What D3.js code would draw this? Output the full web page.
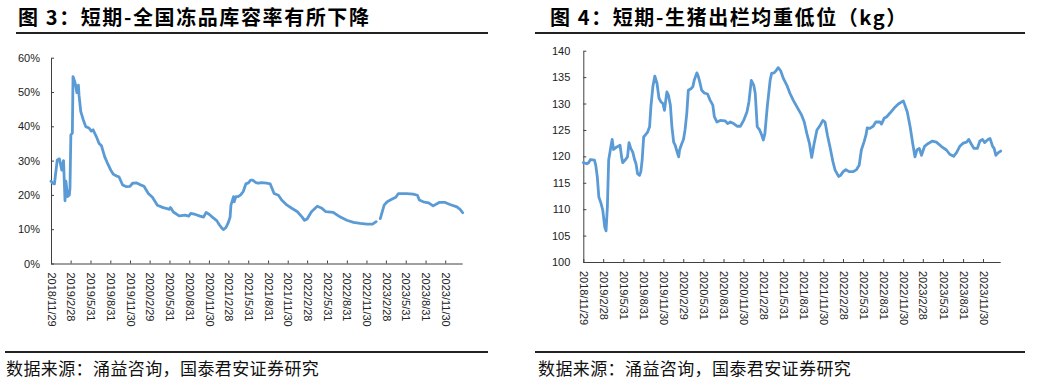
<!DOCTYPE html>
<html><head><meta charset="utf-8">
<script src="https://cdn.jsdelivr.net/npm/d3@7"></script>
<style>body{margin:0;background:#fff}svg{display:block}</style>
</head><body>
<svg id="c" width="1059" height="382"></svg>
<script>
// ---------- data ----------
const title3 = "图 3：短期-全国冻品库容率有所下降";
const title4 = "图 4：短期-生猪出栏均重低位（kg）";
const sourceText = "数据来源：涌益咨询，国泰君安证券研究";

const tickLabels = ["2018/11/29","2019/2/28","2019/5/31","2019/8/31","2019/11/30","2020/2/29","2020/5/31","2020/8/31","2020/11/30","2021/2/28","2021/5/31","2021/8/31","2021/11/30","2022/2/28","2022/5/31","2022/8/31","2022/11/30","2023/2/28","2023/5/31","2023/8/31","2023/11/30"];
const yTicks3 = [0,0.1,0.2,0.3,0.4,0.5,0.6];
const yTicks4 = [100,105,110,115,120,125,130,135,140];

// chart 3: national frozen-goods storage capacity rate (%)
const dates3 = ["2018-11-29","2018-12-07","2018-12-15","2018-12-28","2019-01-07","2019-01-18","2019-01-26","2019-02-02","2019-02-06","2019-02-14","2019-02-22","2019-02-25","2019-03-01","2019-03-08","2019-03-11","2019-03-19","2019-03-23","2019-03-29","2019-04-05","2019-04-08","2019-04-16","2019-04-27","2019-05-09","2019-05-24","2019-06-04","2019-06-12","2019-06-27","2019-07-10","2019-07-21","2019-08-05","2019-08-16","2019-09-02","2019-09-14","2019-09-29","2019-10-10","2019-10-27","2019-11-14","2019-11-30","2019-12-12","2019-12-31","2020-01-15","2020-02-03","2020-02-23","2020-03-13","2020-04-05","2020-05-02","2020-05-20","2020-05-31","2020-06-05","2020-06-18","2020-07-15","2020-08-12","2020-08-28","2020-09-07","2020-09-28","2020-10-20","2020-11-05","2020-11-17","2020-12-02","2020-12-20","2021-01-05","2021-01-17","2021-01-29","2021-02-05","2021-02-17","2021-02-28","2021-03-08","2021-03-12","2021-03-24","2021-03-27","2021-04-04","2021-04-14","2021-04-26","2021-05-08","2021-05-20","2021-06-01","2021-06-11","2021-06-20","2021-07-06","2021-07-17","2021-08-01","2021-08-24","2021-09-10","2021-09-28","2021-10-18","2021-11-02","2021-11-27","2021-12-19","2022-01-14","2022-02-04","2022-02-16","2022-02-28","2022-03-20","2022-04-16","2022-05-05","2022-05-26","2022-06-29","2022-07-30","2022-08-31","2022-10-01","2022-11-01","2022-12-02","2022-12-28","2023-01-14","2023-01-22","2023-02-02","2023-02-20","2023-03-06","2023-03-27","2023-04-15","2023-04-27","2023-06-05","2023-07-05","2023-07-24","2023-08-02","2023-08-20","2023-09-14","2023-10-05","2023-11-02","2023-11-30","2023-12-22","2024-01-23","2024-02-07","2024-02-19"];
const rate3 = [24.0,23.4,23.2,30.2,30.5,27.2,30.0,18.3,24.0,19.5,20.0,22.0,37.5,38.0,54.5,53.0,52.0,49.8,52.0,49.0,44.3,42.0,39.9,39.5,38.6,39.0,37.0,35.0,34.3,31.1,29.5,27.2,26.0,25.5,25.3,22.9,22.4,22.5,23.4,23.5,23.0,22.5,20.4,19.3,17.0,16.3,16.0,15.8,16.3,15.0,13.9,14.1,13.8,14.6,14.3,13.8,13.5,14.9,14.3,13.3,12.5,11.3,10.3,9.9,10.5,12.0,13.5,17.0,19.5,18.0,19.5,19.5,20.0,21.0,23.2,23.5,24.3,24.3,23.6,23.4,23.6,23.4,23.2,20.4,19.9,18.5,17.0,16.1,15.1,13.6,12.6,13.0,15.1,16.7,16.2,15.1,14.9,13.6,12.6,12.0,11.7,11.5,11.5,12.2,null,13.1,17.0,18.0,18.7,19.3,20.4,20.4,20.2,19.9,18.5,18.0,17.7,16.8,17.8,17.8,17.2,16.5,15.8,14.8];

// chart 4: average slaughter weight of hogs (kg)
const dates4 = ["2018-11-29","2018-12-15","2018-12-23","2019-01-01","2019-01-19","2019-01-25","2019-02-01","2019-02-08","2019-02-18","2019-02-26","2019-03-07","2019-03-13","2019-03-19","2019-03-25","2019-04-04","2019-04-10","2019-04-16","2019-04-28","2019-05-08","2019-05-16","2019-05-23","2019-05-28","2019-06-08","2019-06-19","2019-06-26","2019-07-04","2019-07-13","2019-07-22","2019-07-28","2019-08-04","2019-08-13","2019-08-19","2019-08-25","2019-09-01","2019-09-08","2019-09-19","2019-09-28","2019-10-04","2019-10-13","2019-10-22","2019-11-01","2019-11-10","2019-11-19","2019-11-28","2019-12-05","2019-12-16","2019-12-23","2020-01-01","2020-01-08","2020-01-16","2020-01-23","2020-02-01","2020-02-08","2020-02-12","2020-02-22","2020-03-01","2020-03-08","2020-03-16","2020-03-23","2020-04-04","2020-04-13","2020-04-19","2020-05-01","2020-05-08","2020-05-16","2020-05-23","2020-06-04","2020-06-19","2020-07-01","2020-07-13","2020-07-20","2020-08-01","2020-08-16","2020-09-08","2020-09-19","2020-10-01","2020-10-16","2020-11-01","2020-11-16","2020-12-01","2020-12-16","2020-12-25","2021-01-05","2021-01-16","2021-01-23","2021-02-01","2021-02-12","2021-02-22","2021-03-01","2021-03-08","2021-03-19","2021-04-01","2021-04-08","2021-04-19","2021-04-28","2021-05-08","2021-05-19","2021-06-01","2021-06-16","2021-07-01","2021-07-16","2021-08-01","2021-08-23","2021-09-04","2021-09-16","2021-09-28","2021-10-08","2021-10-19","2021-11-01","2021-11-16","2021-11-28","2021-12-08","2021-12-19","2022-01-01","2022-01-13","2022-01-23","2022-02-08","2022-02-17","2022-03-01","2022-03-13","2022-03-28","2022-04-16","2022-05-01","2022-05-13","2022-05-23","2022-06-04","2022-06-13","2022-06-19","2022-07-01","2022-07-16","2022-07-28","2022-08-16","2022-08-23","2022-09-04","2022-09-16","2022-10-01","2022-10-19","2022-11-08","2022-12-01","2022-12-08","2022-12-19","2023-01-01","2023-01-13","2023-01-23","2023-02-01","2023-02-12","2023-02-22","2023-03-08","2023-03-23","2023-04-13","2023-05-01","2023-05-23","2023-06-16","2023-07-01","2023-07-19","2023-08-01","2023-08-16","2023-09-01","2023-09-16","2023-09-26","2023-10-08","2023-10-20","2023-11-04","2023-11-16","2023-11-28","2023-12-08","2023-12-23","2024-01-01","2024-01-13","2024-01-20","2024-01-28","2024-02-08","2024-02-19"];
const weight4 = [118.8,118.6,118.8,119.4,119.3,118.3,116.1,112.3,111.1,109.8,106.6,105.9,110.4,119.3,121.8,123.2,121.3,121.7,121.9,122.1,119.9,118.8,119.3,119.9,122.6,121.5,120.8,119.3,118.6,116.7,116.4,117.1,119.3,123.7,124.0,124.6,125.6,129.4,133.2,135.2,133.8,131.0,130.3,130.0,128.7,132.2,131.6,129.7,125.6,122.7,122.1,120.8,119.9,121.2,122.4,123.2,125.0,128.1,132.5,132.8,133.2,134.4,135.8,135.1,133.8,132.5,132.0,131.8,130.6,129.7,127.5,126.5,126.8,126.7,126.2,126.5,126.2,125.7,125.7,126.8,128.4,130.3,134.4,133.5,131.9,125.6,125.0,124.0,123.1,124.3,129.4,134.4,135.7,135.8,136.2,136.8,136.2,134.7,133.5,131.9,130.6,129.4,127.8,126.5,124.3,122.4,119.8,122.4,125.0,125.9,126.8,126.5,124.0,121.5,119.0,117.4,116.2,116.4,117.1,117.5,117.1,117.1,117.5,118.3,121.2,122.7,124.0,125.4,125.3,125.7,126.5,126.5,126.1,127.2,127.5,128.2,129.1,129.9,130.5,129.7,128.4,125.6,122.4,119.9,121.2,121.5,120.2,121.9,122.4,122.9,122.7,121.9,121.2,120.4,120.0,120.7,121.9,122.5,122.7,123.2,122.3,121.5,121.5,122.9,123.2,122.6,123.2,123.4,121.9,121.5,120.2,120.7,121.0];

// ---------- drawing ----------
const svg = d3.select("#c");
const parse = d3.timeParse("%Y-%m-%d");
const parseTick = d3.timeParse("%Y/%m/%d");
const tickDates = tickLabels.map(parseTick);
const fmtTick = d3.timeFormat("%Y/%-m/%-d");
const lineColor = "#5B9BD5";
const axisColor = "#404040";
const tickFont = "'Liberation Sans', Arial, sans-serif";
const cjk = "'Noto Sans CJK SC', sans-serif";

function header(x0, lineX0, lineX1, title, srcX, srcLineX0, srcLineX1) {
  svg.append("text").attr("x", x0).attr("y", 24.5)
    .attr("font-family", cjk).attr("font-weight", 700).attr("font-size", 20)
    .attr("letter-spacing", 1.6)
    .attr("fill", "#000").text(title);
  svg.append("line").attr("x1", lineX0).attr("x2", lineX1).attr("y1", 33).attr("y2", 33)
    .attr("stroke", "#222").attr("stroke-width", 2);
  svg.append("line").attr("x1", srcLineX0).attr("x2", srcLineX1).attr("y1", 352).attr("y2", 352)
    .attr("stroke", "#222").attr("stroke-width", 2);
  svg.append("text").attr("x", srcX).attr("y", 374.5)
    .attr("font-family", cjk).attr("font-weight", 400).attr("font-size", 17)
    .attr("letter-spacing", 0.4)
    .attr("fill", "#111").text(sourceText);
}

function chart(cfg) {
  const x = d3.scaleTime().domain([parse("2018-11-29"), parse("2024-02-19")]).range([cfg.x0, cfg.x1]);
  const y = d3.scaleLinear().domain(cfg.yDomain).range([cfg.yB, cfg.yT]);
  const g = svg.append("g");

  const xa = g.append("g").attr("transform", `translate(0,${cfg.yB})`)
    .call(d3.axisBottom(x).tickValues(tickDates).tickFormat(fmtTick).tickSizeInner(-3).tickSizeOuter(0));
  xa.select(".domain").attr("stroke", axisColor).attr("d", `M${cfg.x0},0.5H${cfg.x1}`);
  xa.selectAll(".tick line").attr("stroke", axisColor);
  xa.selectAll(".tick text")
    .attr("transform", "rotate(90)")
    .attr("x", 9).attr("y", 0).attr("dy", "0.35em")
    .attr("text-anchor", "start")
    .attr("font-family", tickFont).attr("font-size", 11).attr("fill", "#222");

  const ya = g.append("g").attr("transform", `translate(${cfg.x0},0)`)
    .call(d3.axisLeft(y).tickValues(cfg.yTicks).tickFormat(cfg.yFmt).tickSizeInner(-3).tickSizeOuter(0).tickPadding(cfg.pad));
  ya.select(".domain").attr("stroke", axisColor);
  ya.selectAll(".tick line").attr("stroke", axisColor);
  ya.selectAll(".tick text").attr("font-family", tickFont).attr("font-size", 11).attr("fill", "#222");

  const data = cfg.dates.map((d, i) => ({ d: parse(d), v: cfg.values[i] }));
  const line = d3.line().defined(p => p.v !== null)
    .x(p => x(p.d)).y(p => y(cfg.scaleV(p.v)));
  g.append("path").datum(data).attr("d", line)
    .attr("fill", "none").attr("stroke", lineColor).attr("stroke-width", 2.8)
    .attr("stroke-linejoin", "round").attr("stroke-linecap", "round");
}

header(18, 16, 488, title3, 6, 5, 488);
header(550, 535, 1025, title4, 538, 535, 1025);

chart({ x0: 51, x1: 462.7, yB: 263.5, yT: 57.7, yDomain: [0, 0.6], yTicks: yTicks3,
  yFmt: d3.format(".0%"), pad: 11, dates: dates3, values: rate3, scaleV: v => v / 100 });
chart({ x0: 583.3, x1: 1000.7, yB: 262, yT: 50.7, yDomain: [100, 140], yTicks: yTicks4,
  yFmt: d3.format("d"), pad: 13, dates: dates4, values: weight4, scaleV: v => v });
</script>
</body></html>
